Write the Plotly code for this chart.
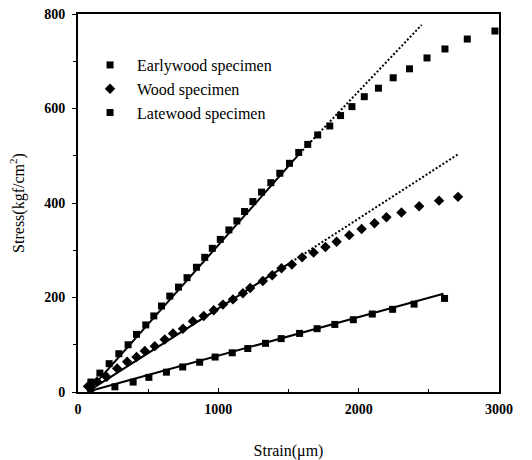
import plotly.graph_objects as go

# ---- data ----
early_x = [92, 156, 222, 291, 357, 417, 483, 540, 595, 654, 716, 777, 844, 903, 957, 1014,
           1075, 1132, 1187, 1246, 1308, 1374, 1438, 1507, 1573, 1637, 1708, 1794, 1871, 1952,
           2040, 2141, 2246, 2362, 2487, 2615, 2774, 2971]
early_y = [21, 40, 60, 81, 100, 122, 142, 161, 182, 203, 222, 242, 264, 285, 304, 323,
           343, 362, 382, 403, 423, 443, 463, 484, 507, 524, 544, 563, 585, 604,
           625, 643, 665, 684, 707, 726, 747, 764]

wood_x = [71, 135, 204, 279, 350, 417, 476, 547, 618, 677, 748, 819, 896, 967, 1033, 1104,
          1175, 1227, 1317, 1384, 1450, 1524, 1597, 1679, 1763, 1843, 1933, 2021, 2113,
          2198, 2305, 2431, 2573, 2708]
wood_y = [12, 22, 32, 50, 64, 74, 87, 97, 111, 124, 134, 150, 161, 173, 185, 196,
          209, 220, 235, 247, 262, 270, 285, 295, 307, 318, 332, 345, 357,
          370, 380, 393, 405, 413]

late_x = [90, 263, 393, 505, 630, 746, 867, 977, 1099, 1210, 1336, 1448, 1579, 1704, 1830,
          1962, 2097, 2242, 2395, 2612]
late_y = [5, 11, 21, 31, 42, 53, 63, 74, 83, 92, 103, 113, 124, 134, 143,
          153, 165, 175, 186, 198]

# fitted lines (solid part, dotted extrapolation)
early_fit_x = [85, 1580]
early_fit_y = [5, 505]
early_ext_x = [1580, 2449]
early_ext_y = [505, 777]
wood_fit_x = [85, 1520]
wood_fit_y = [4, 275]
wood_ext_x = [1520, 2708]
wood_ext_y = [275, 503]
late_fit_x = [85, 2604]
late_fit_y = [2, 208]

series_names = ["Earlywood specimen", "Wood specimen", "Latewood specimen"]
x_ticks = [0, 1000, 2000, 3000]
y_ticks = [0, 200, 400, 600, 800]

SERIF = "Liberation Serif, Times New Roman, serif"

fig = go.Figure()

line_style = dict(color="black", width=2)
for fx, fy in [(early_fit_x, early_fit_y), (wood_fit_x, wood_fit_y), (late_fit_x, late_fit_y)]:
    fig.add_trace(go.Scatter(x=fx, y=fy, mode="lines", line=line_style,
                             showlegend=False, hoverinfo="skip"))
for fx, fy in [(early_ext_x, early_ext_y), (wood_ext_x, wood_ext_y)]:
    fig.add_trace(go.Scatter(x=fx, y=fy, mode="lines",
                             line=dict(color="black", width=2, dash="2px,2px"),
                             showlegend=False, hoverinfo="skip"))

fig.add_trace(go.Scatter(x=early_x, y=early_y, mode="markers", name=series_names[0],
                         marker=dict(symbol="square", size=7, color="black")))
fig.add_trace(go.Scatter(x=wood_x, y=wood_y, mode="markers", name=series_names[1],
                         marker=dict(symbol="diamond", size=8, color="black")))
fig.add_trace(go.Scatter(x=late_x, y=late_y, mode="markers", name=series_names[2],
                         marker=dict(symbol="square", size=7, color="black")))

fig.update_layout(
    width=532, height=460,
    margin=dict(l=78, r=33, t=14, b=68, autoexpand=False),
    paper_bgcolor="white", plot_bgcolor="white",
    font=dict(family=SERIF, color="black", size=14),
    legend=dict(x=0.012, y=0.91, xanchor="left", yanchor="top",
                bgcolor="rgba(0,0,0,0)", font=dict(family=SERIF, size=16),
                itemwidth=44, itemsizing="trace"),
)
fig.update_xaxes(
    range=[0, 3000], tickvals=x_ticks, ticktext=[str(v) for v in x_ticks],
    automargin=False,
    showgrid=False, zeroline=False, showline=True, linecolor="black", linewidth=2,
    mirror=True, ticks="inside", ticklen=4, tickcolor="black", ticklabelstandoff=3,
    minor=dict(dtick=500, ticks="inside", ticklen=3, tickcolor="black"),
    tickfont=dict(family=SERIF, size=14, weight="bold"),
    title=dict(text="Strain(μm)", font=dict(family=SERIF, size=16), standoff=34),
)
fig.update_yaxes(
    range=[0, 800], tickvals=y_ticks, ticktext=[str(v) for v in y_ticks],
    automargin=False,
    showgrid=False, zeroline=False, showline=True, linecolor="black", linewidth=2,
    mirror=True, ticks="outside", ticklen=4, tickcolor="black", ticklabelstandoff=4,
    minor=dict(dtick=100, ticks="outside", ticklen=3, tickcolor="black"),
    tickfont=dict(family=SERIF, size=14, weight="bold"),
    title=dict(text="Stress(kgf/cm<sup>2</sup>)", font=dict(family=SERIF, size=16), standoff=16),
)

fig.write_html("out.html", config={"displayModeBar": False},
               post_script="document.body.style.margin='0';document.body.style.overflow='hidden';")
